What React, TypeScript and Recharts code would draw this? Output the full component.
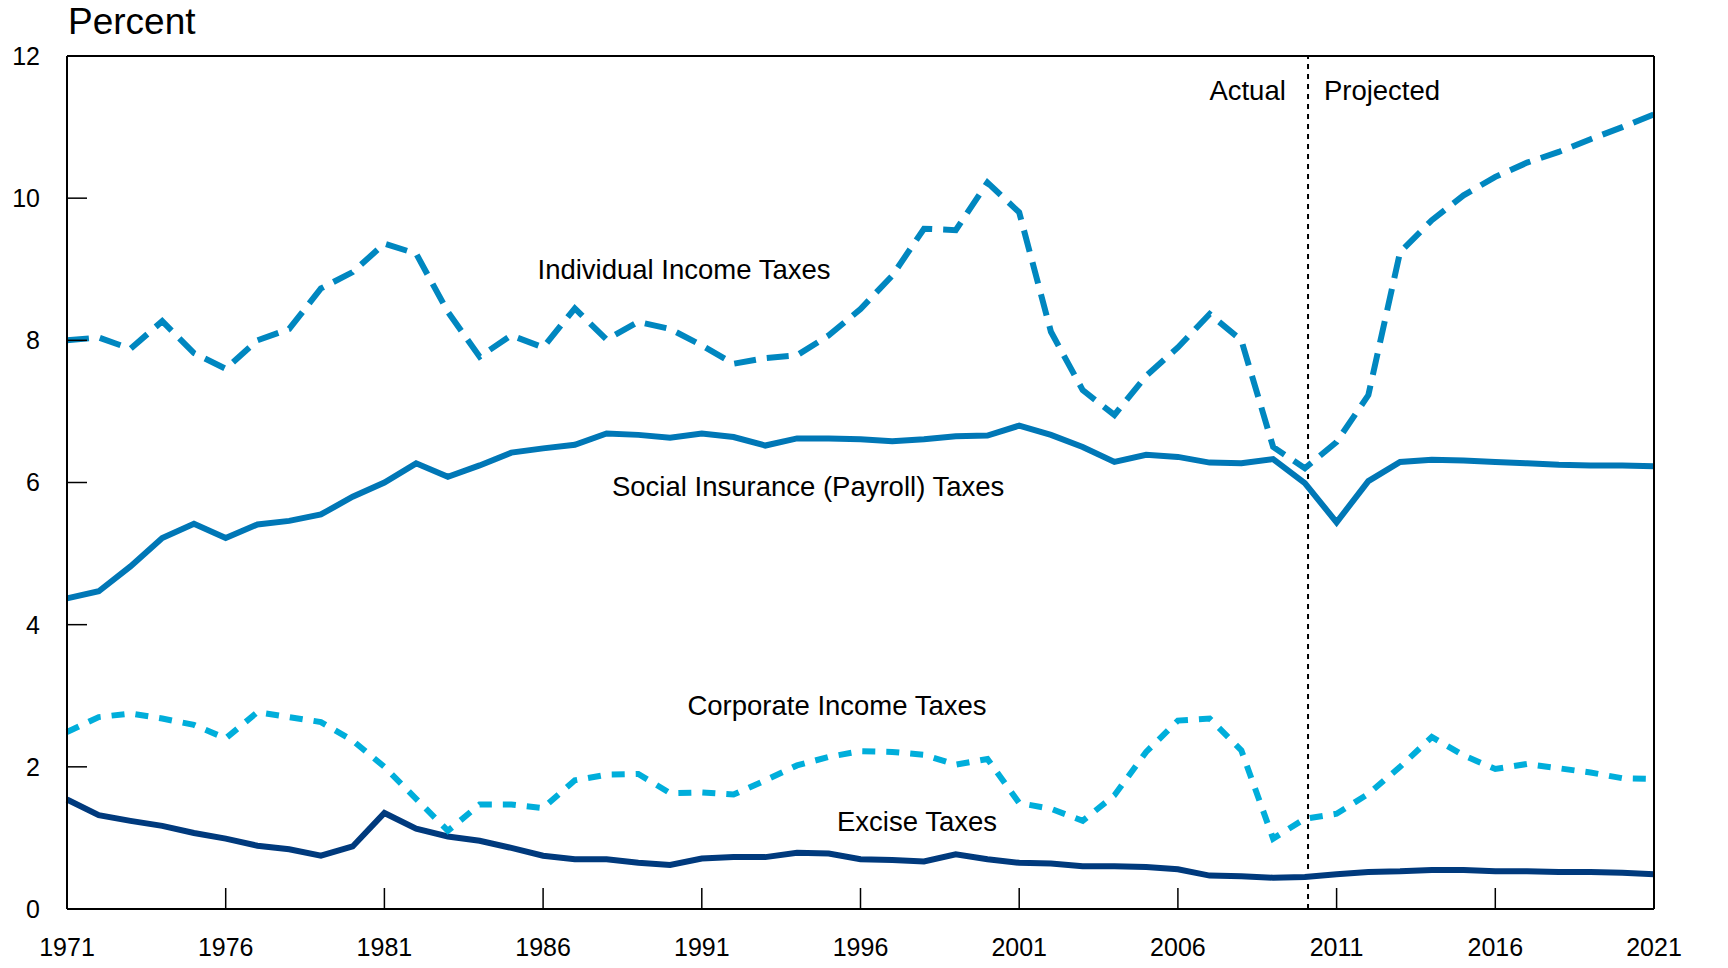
import {
  LineChart,
  Line,
  XAxis,
  YAxis,
  ReferenceLine,
  ReferenceDot,
} from "recharts";

const years = [
  1971, 1972, 1973, 1974, 1975, 1976, 1977, 1978, 1979, 1980,
  1981, 1982, 1983, 1984, 1985, 1986, 1987, 1988, 1989, 1990,
  1991, 1992, 1993, 1994, 1995, 1996, 1997, 1998, 1999, 2000,
  2001, 2002, 2003, 2004, 2005, 2006, 2007, 2008, 2009, 2010,
  2011, 2012, 2013, 2014, 2015, 2016, 2017, 2018, 2019, 2020, 2021,
];

const individual = [
  8.0, 8.04, 7.88, 8.27, 7.82, 7.6, 8.0, 8.16, 8.73, 8.96,
  9.36, 9.22, 8.4, 7.77, 8.07, 7.9, 8.45, 8.01, 8.26, 8.16,
  7.93, 7.67, 7.75, 7.79, 8.07, 8.44, 8.91, 9.57, 9.55, 10.22,
  9.8, 8.12, 7.3, 6.95, 7.5, 7.9, 8.37, 8.0, 6.5, 6.2,
  6.57, 7.23, 9.24, 9.69, 10.04, 10.3, 10.5, 10.65, 10.83, 11.0, 11.18,
];

const socialInsurance = [
  4.37, 4.47, 4.82, 5.22, 5.42, 5.22, 5.41, 5.46, 5.55, 5.8,
  6.0, 6.27, 6.08, 6.24, 6.42, 6.48, 6.53, 6.69, 6.67, 6.63,
  6.69, 6.64, 6.52, 6.62, 6.62, 6.61, 6.58, 6.61, 6.65, 6.66,
  6.8, 6.67, 6.5, 6.29, 6.39, 6.36, 6.28, 6.27, 6.33, 5.99,
  5.44, 6.02, 6.29, 6.32, 6.31, 6.29, 6.27, 6.25, 6.24, 6.24, 6.23,
];

const corporate = [
  2.49, 2.7, 2.75, 2.68, 2.59, 2.4, 2.77, 2.7, 2.63, 2.37,
  2.0, 1.55, 1.1, 1.47, 1.47, 1.42, 1.81, 1.89, 1.9, 1.63,
  1.64, 1.61, 1.81, 2.02, 2.14, 2.22, 2.21, 2.17, 2.03, 2.11,
  1.49, 1.41, 1.24, 1.6, 2.21, 2.65, 2.68, 2.23, 0.99, 1.27,
  1.34, 1.62, 2.0, 2.42, 2.16, 1.97, 2.04, 1.98, 1.92, 1.84, 1.83,
];

const excise = [
  1.54, 1.32, 1.24, 1.17, 1.07, 0.99, 0.89, 0.84, 0.75, 0.88,
  1.35, 1.13, 1.02, 0.96, 0.86, 0.75, 0.7, 0.7, 0.65, 0.62,
  0.71, 0.73, 0.73, 0.79, 0.78, 0.7, 0.69, 0.67, 0.77, 0.7,
  0.65, 0.64, 0.6, 0.6, 0.59, 0.56, 0.47, 0.46, 0.44, 0.45,
  0.49, 0.52, 0.53, 0.55, 0.55, 0.53, 0.53, 0.52, 0.52, 0.51, 0.49,
];

const xTicks = [1971, 1976, 1981, 1986, 1991, 1996, 2001, 2006, 2011, 2016, 2021];
const yTicks = [0, 2, 4, 6, 8, 10, 12];

const data = years.map((year, i) => ({
  year,
  individual: individual[i],
  social: socialInsurance[i],
  corporate: corporate[i],
  excise: excise[i],
}));

const FONT = "'Liberation Sans', Arial, sans-serif";
const tickStyle = { fill: "#000", fontSize: 25, fontFamily: FONT };
const labelStyle = { fill: "#000", fontSize: 27.5, fontFamily: FONT };

const seriesLabel = (value: string, x: number, y: number) => (
  <ReferenceDot
    x={x}
    y={y}
    r={0}
    fill="none"
    stroke="none"
    yAxisId="left"
    label={{ value, position: "center", ...labelStyle }}
  />
);

export default function App() {
  return (
    <div style={{ position: "relative", width: 1712, height: 952, background: "#fff" }}>
      <div
        style={{
          position: "absolute",
          left: 60,
          top: -6,
          fontFamily: FONT,
          fontSize: 37,
          color: "#000",
          lineHeight: "40px",
        }}
      >
        Percent
      </div>
      <LineChart
        width={1712}
        height={952}
        data={data}
        margin={{ top: 48, right: 0, bottom: 0, left: 0 }}
      >
        <XAxis
          dataKey="year"
          type="number"
          domain={[1971, 2021]}
          ticks={xTicks}
          interval={0}
          height={51}
          tick={tickStyle}
          tickSize={-21}
          tickMargin={50}
          axisLine={{ stroke: "#000", strokeWidth: 2 }}
          tickLine={{ stroke: "#000", strokeWidth: 1.5 }}
        />
        <YAxis
          yAxisId="left"
          domain={[0, 12]}
          ticks={yTicks}
          interval={0}
          width={59}
          tick={tickStyle}
          tickSize={-20}
          tickMargin={47}
          axisLine={{ stroke: "#000", strokeWidth: 2 }}
          tickLine={{ stroke: "#000", strokeWidth: 1.5 }}
        />
        <YAxis
          yAxisId="right"
          orientation="right"
          domain={[0, 12]}
          ticks={yTicks}
          interval={0}
          width={66}
          tick={{ ...tickStyle, textAnchor: "start" }}
          tickSize={-20}
          tickMargin={49}
          axisLine={{ stroke: "#000", strokeWidth: 2 }}
          tickLine={{ stroke: "#000", strokeWidth: 1.5 }}
        />
        <ReferenceLine y={12} yAxisId="left" stroke="#000" strokeWidth={2} />
        <ReferenceLine
          x={2010.1}
          yAxisId="left"
          stroke="#000"
          strokeWidth={2}
          strokeDasharray="5 5"
        />
        <Line
          yAxisId="left"
          dataKey="excise"
          stroke="#003A7D"
          strokeWidth={6}
          dot={false}
          isAnimationActive={false}
        />
        <Line
          yAxisId="left"
          dataKey="corporate"
          stroke="#00AEDB"
          strokeWidth={6}
          strokeDasharray="13 11"
          dot={false}
          isAnimationActive={false}
        />
        <Line
          yAxisId="left"
          dataKey="social"
          stroke="#0077B6"
          strokeWidth={6}
          dot={false}
          isAnimationActive={false}
        />
        <Line
          yAxisId="left"
          dataKey="individual"
          stroke="#0087C0"
          strokeWidth={6}
          strokeDasharray="22 11"
          dot={false}
          isAnimationActive={false}
        />
        {seriesLabel("Individual Income Taxes", 1990.44, 9.0)}
        {seriesLabel("Social Insurance (Payroll) Taxes", 1994.35, 5.95)}
        {seriesLabel("Corporate Income Taxes", 1995.26, 2.86)}
        {seriesLabel("Excise Taxes", 1997.78, 1.24)}
        <ReferenceDot
          x={2009.4}
          y={11.52}
          r={0}
          fill="none"
          stroke="none"
          yAxisId="left"
          label={{ value: "Actual", position: "left", offset: 0, ...labelStyle }}
        />
        <ReferenceDot
          x={2010.6}
          y={11.52}
          r={0}
          fill="none"
          stroke="none"
          yAxisId="left"
          label={{ value: "Projected", position: "right", offset: 0, ...labelStyle }}
        />
      </LineChart>
    </div>
  );
}
